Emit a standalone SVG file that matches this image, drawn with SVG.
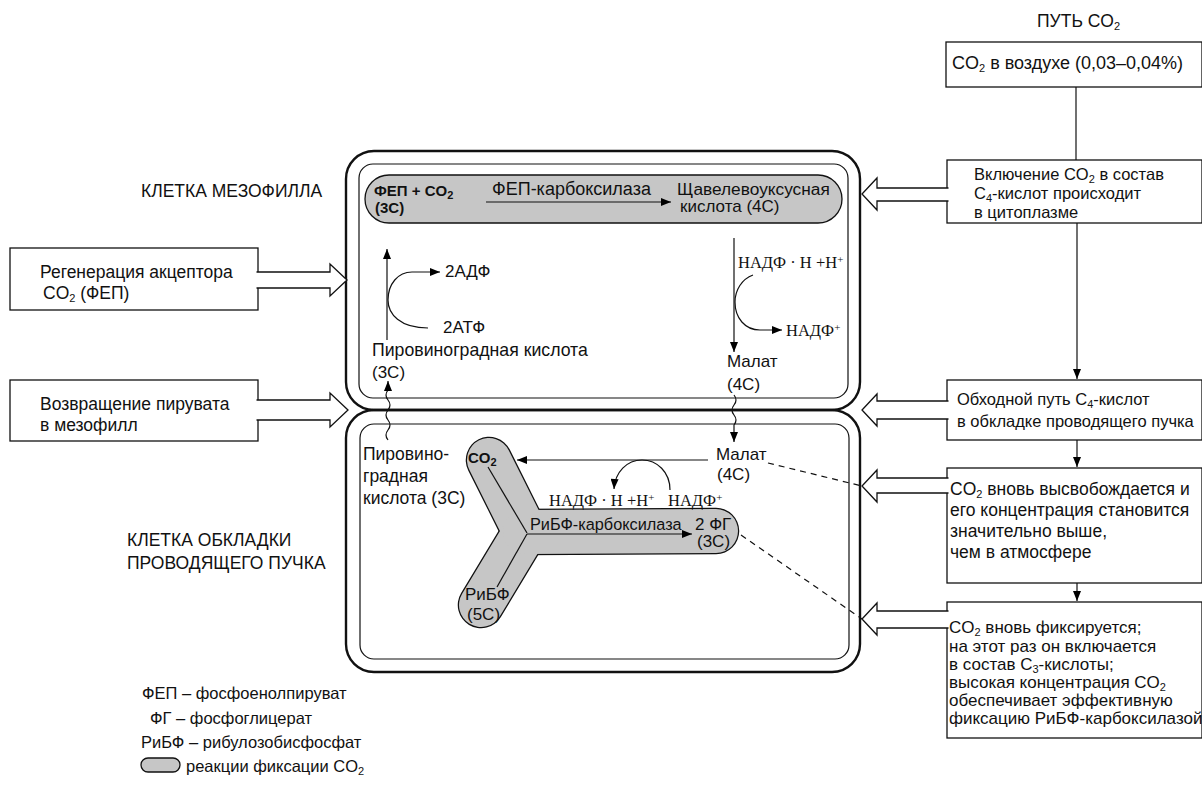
<svg xmlns="http://www.w3.org/2000/svg" width="1202" height="795" viewBox="0 0 1202 795">
<defs>
<marker id="ah" viewBox="0 0 10 8" refX="10" refY="4" markerWidth="11" markerHeight="8" markerUnits="userSpaceOnUse" orient="auto"><path d="M0,0 L10,4 L0,8 z" fill="#000"/></marker>
<style>
text{font-family:"Liberation Sans",Arial,sans-serif;font-size:17px;fill:#111}
.serif{font-family:"Liberation Serif","Times New Roman",serif;font-size:16.5px}
.b{font-weight:bold;font-size:15px}
.sub{font-size:11px}
.lab{font-size:17.5px}
.r{font-size:17.5px}
.r2{font-size:16.5px}
.r3{font-size:16.5px}
.leg{font-size:16.5px}
.box{fill:#fff;stroke:#111;stroke-width:1.3}
.hol{fill:#fff;stroke:#111;stroke-width:1.3}
.outer{fill:none;stroke:#111;stroke-width:2.4}
.inner{fill:none;stroke:#111;stroke-width:1.2}
.ln{fill:none;stroke:#111;stroke-width:1.2}
.arr{fill:none;stroke:#111;stroke-width:1.2;marker-end:url(#ah)}
.dash{fill:none;stroke:#111;stroke-width:1.2;stroke-dasharray:6 5}
.gray{fill:#c6c6c6;stroke:#111;stroke-width:1.3}
</style>
</defs>

<!-- cells -->
<g id="mesophyll-cell">
<rect class="outer" x="346" y="151" width="514" height="259" rx="28"/>
<rect class="inner" x="359" y="164" width="489" height="234" rx="14"/>
<text x="141" y="197" class="lab">КЛЕТКА МЕЗОФИЛЛА</text>
</g>
<g id="bundle-cell">
<rect class="outer" x="346" y="410" width="514" height="262" rx="28"/>
<rect class="inner" x="360" y="424" width="489" height="235" rx="14"/>
<text x="127" y="546" class="lab">КЛЕТКА ОБКЛАДКИ</text>
<text x="127" y="569" class="lab">ПРОВОДЯЩЕГО ПУЧКА</text>
</g>

<!-- mesophyll fixation pill -->
<g id="pep-carboxylation">
<rect class="gray" x="365" y="175" width="477" height="48" rx="24"/>
<text x="374" y="196" class="b">ФЕП + CO<tspan class="sub" dy="3">2</tspan></text>
<text x="375" y="213" class="b">(3С)</text>
<text x="492" y="195" style="font-size:18px">ФЕП-карбоксилаза</text>
<text x="677" y="195" style="font-size:17.3px">Щавелевоуксусная</text>
<text x="680" y="212">кислота (4С)</text>
</g>

<!-- mesophyll interior -->
<g id="pyruvate-meso">
<text x="445" y="277">2АДФ</text>
<text x="443" y="333">2АТФ</text>
<text x="372" y="356" style="font-size:17.7px">Пировиноградная кислота</text>
<text x="372" y="378">(3С)</text>
</g>
<g id="malate-meso">
<text x="738" y="268" class="serif">НАДФ · Н +Н<tspan class="sub" dy="-5">+</tspan></text>
<text x="786" y="336" class="serif">НАДФ<tspan class="sub" dy="-5">+</tspan></text>
<text x="727" y="367">Малат</text>
<text x="727" y="390">(4С)</text>
</g>

<!-- bundle sheath Y -->
<g id="calvin-y">
<g stroke="#111" stroke-width="46.5" stroke-linecap="round" fill="none">
<line x1="525" y1="532" x2="489" y2="460"/>
<line x1="525" y1="532" x2="481" y2="605"/>
<line x1="525" y1="532" x2="716" y2="531"/>
</g>
<g stroke="#c6c6c6" stroke-width="44" stroke-linecap="round" fill="none">
<line x1="525" y1="532" x2="489" y2="460"/>
<line x1="525" y1="532" x2="481" y2="605"/>
<line x1="525" y1="532" x2="716" y2="531"/>
</g>
<text x="468" y="463" class="b">CO<tspan class="sub" dy="3">2</tspan></text>
<text x="465" y="600">РиБФ</text>
<text x="467" y="620">(5С)</text>
<text x="530" y="530" style="font-size:16.3px">РиБФ-карбоксилаза</text>
<text x="695" y="530">2 ФГ</text>
<text x="697" y="547">(3С)</text>
</g>
<g id="bundle-labels">
<text x="363" y="460" style="font-size:17.5px">Пировино-</text>
<text x="363" y="482" style="font-size:17.5px">градная</text>
<text x="363" y="504" style="font-size:17.5px">кислота (3С)</text>
<text x="716" y="460">Малат</text>
<text x="717" y="480">(4С)</text>
<text x="549" y="506" class="serif">НАДФ · Н +Н<tspan class="sub" dy="-5">+</tspan></text>
<text x="668" y="506" class="serif">НАДФ<tspan class="sub" dy="-5">+</tspan></text>
</g>

<!-- left boxes -->
<g id="box-regeneration">
<rect class="box" x="10" y="248" width="248" height="62"/>
<text x="40" y="278" class="r">Регенерация акцептора</text>
<text x="43" y="299" class="r">CO<tspan class="sub" dy="3">2</tspan><tspan dy="-3"> (ФЕП)</tspan></text>
</g>
<g id="box-pyruvate-return">
<rect class="box" x="10" y="380" width="248" height="61"/>
<text x="40" y="410" class="r">Возвращение пирувата</text>
<text x="40" y="431" class="r">в мезофилл</text>
</g>

<!-- right boxes -->
<g id="title-co2">
<text x="1037" y="27" class="r">ПУТЬ CO<tspan class="sub" dy="3">2</tspan></text>
</g>
<g id="box-air">
<rect class="box" x="946" y="42" width="256" height="45"/>
<text x="952" y="69" style="font-size:18px">CO<tspan class="sub" dy="3">2</tspan><tspan dy="-3"> в воздухе (0,03–0,04%)</tspan></text>
</g>
<g id="box-inclusion">
<rect class="box" x="947" y="160" width="255" height="63"/>
<text x="974" y="180" class="r2">Включение CO<tspan class="sub" dy="3">2</tspan><tspan dy="-3"> в состав</tspan></text>
<text x="974" y="199" class="r2">C<tspan class="sub" dy="3">4</tspan><tspan dy="-3">-кислот происходит</tspan></text>
<text x="974" y="218" class="r2">в цитоплазме</text>
</g>
<g id="box-bypass">
<rect class="box" x="947" y="380" width="255" height="60"/>
<text x="957" y="405" class="r3">Обходной путь C<tspan class="sub" dy="3">4</tspan><tspan dy="-3">-кислот</tspan></text>
<text x="957" y="427" class="r3">в обкладке проводящего пучка</text>
</g>
<g id="box-release">
<rect class="box" x="947" y="468" width="255" height="115"/>
<text x="950" y="495" class="r">CO<tspan class="sub" dy="3">2</tspan><tspan dy="-3"> вновь высвобождается и</tspan></text>
<text x="950" y="516" class="r">его концентрация становится</text>
<text x="950" y="537" class="r">значительно выше,</text>
<text x="950" y="558" class="r">чем в атмосфере</text>
</g>
<g id="box-refix">
<rect class="box" x="947" y="602" width="255" height="136"/>
<text x="949" y="633">CO<tspan class="sub" dy="3">2</tspan><tspan dy="-3"> вновь фиксируется;</tspan></text>
<text x="949" y="652">на этот раз он включается</text>
<text x="949" y="670">в состав C<tspan class="sub" dy="3">3</tspan><tspan dy="-3">-кислоты;</tspan></text>
<text x="949" y="688">высокая концентрация CO<tspan class="sub" dy="3">2</tspan></text>
<text x="949" y="706">обеспечивает эффективную</text>
<text x="949" y="724">фиксацию РиБФ-карбоксилазой</text>
</g>

<!-- legend -->
<g id="legend">
<text x="142" y="699" class="leg">ФЕП – фосфоенолпируват</text>
<text x="150" y="724" class="leg">ФГ – фосфоглицерат</text>
<text x="141" y="748" class="leg">РиБФ – рибулозобисфосфат</text>
<rect class="gray" x="141" y="758" width="39" height="14" rx="7"/>
<text x="186" y="772" class="leg">реакции фиксации CO<tspan class="sub" dy="3">2</tspan></text>
</g>

<!-- connectors -->
<g id="connectors">
<path class="hol" d="M256.5,272 H330 V264 L347,280 L330,296 V288 H256.5"/>
<path class="hol" d="M256.5,400 H330 V393 L348,410 L330,427 V420 H256.5"/>
<path class="hol" d="M948.5,188 H877 V178 L862,194 L877,210 V201 H948.5"/>
<path class="hol" d="M948.5,401 H877 V394 L862,410 L877,426 V419 H948.5"/>
<path class="hol" d="M948.5,478 H877 V470 L862,486 L877,502 V493 H948.5"/>
<path class="hol" d="M948.5,611 H877 V603 L862,619 L877,635 V628 H948.5"/>
<line class="ln" x1="1076" y1="87" x2="1076" y2="160"/>
<line class="arr" x1="1077" y1="223" x2="1077" y2="379"/>
<line class="arr" x1="1077" y1="440" x2="1077" y2="467"/>
<line class="arr" x1="1077" y1="583" x2="1077" y2="601"/>
<line class="arr" x1="486" y1="202" x2="671" y2="202"/>
<line class="arr" x1="387" y1="340" x2="387" y2="249"/>
<path class="arr" d="M428,328 C400,328 388,314 388,300 C388,284 398,272 412,272 L440,272"/>
<line class="arr" x1="734" y1="238" x2="734" y2="352"/>
<path class="arr" d="M753,275 C742,279 735,290 735,302 C735,318 745,330 760,330 L782,330"/>
<path class="arr" d="M388,440 q-4,-5 0,-10 q4,-5 0,-10 q-4,-5 0,-10 q4,-5 0,-10 q-4,-5 0,-10 L388,381"/>
<path class="arr" d="M734,395 q4,5 0,10 q-4,5 0,10 q4,5 0,10 L734,442"/>
<line class="arr" x1="708" y1="460" x2="517" y2="460"/>
<path class="arr" d="M670,490 C670,472 657,460 642,460 C627,460 615,472 614,489"/>
<line class="ln" x1="488" y1="467" x2="527" y2="533"/>
<line class="ln" x1="497" y1="587" x2="527" y2="534"/>
<line class="arr" x1="527" y1="534" x2="692" y2="534"/>
<line class="dash" x1="768" y1="463" x2="862" y2="486"/>
<line class="dash" x1="741" y1="535" x2="862" y2="619"/>
</g>
</svg>
